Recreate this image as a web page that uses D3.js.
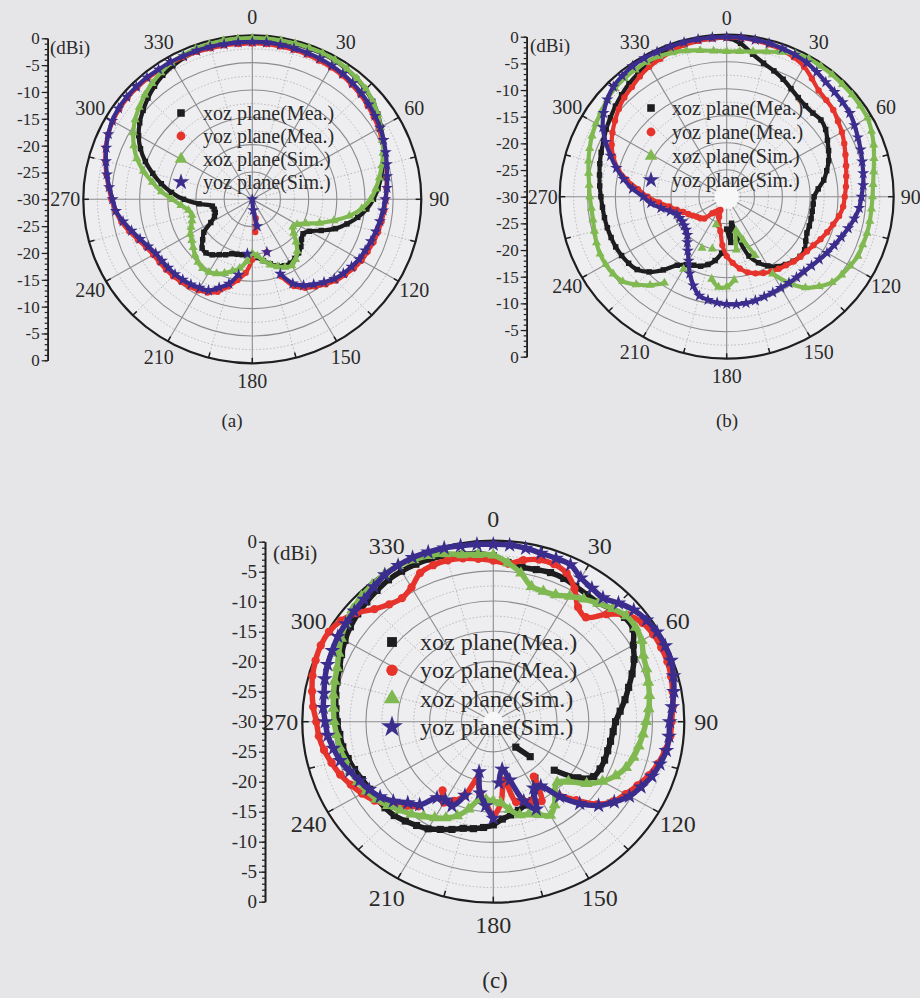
<!DOCTYPE html>
<html>
<head>
<meta charset="utf-8">
<script src="https://cdn.jsdelivr.net/npm/d3@7"></script>
<style>
  body { margin: 0; background: #e6e6e8; }
  svg { display: block; }
  svg text { font-family: "Liberation Serif", "DejaVu Serif", serif !important; fill: #2a2a2a; }
</style>
</head>
<body>
<svg id="fig" width="920" height="998"></svg>
<script>
// ---- shared categories ----
const angles = d3.range(0, 360, 5);               // sample angles, degrees
const angleTicks = d3.range(0, 360, 30);          // labelled spokes
const seriesNames = ["xoz plane(Mea.)", "yoz plane(Mea.)", "xoz plane(Sim.)", "yoz plane(Sim.)"];
const seriesColors = ["#1d1d1f", "#e6332c", "#80b951", "#3b2d8d"];
const gainTicks = [0, -5, -10, -15, -20, -25, -30]; // dBi
const panelLabels = ["(a)", "(b)", "(c)"];

// ---- panel (a) gains, dBi, one value per 5 degrees ----
const aXozMea = [-0.7,-0.7,-0.6,-0.6,-0.6,-0.6,-0.7,-0.9,-1.2,-1.6,-2.1,-2.8,
  -3.6,-4.4,-5.2,-6.0,-6.8,-7.6,-8.5,-9.6,-11.0,-12.6,-14.3,-16.5,
  -18.3,-19.0,-18.6,-17.8,-17.2,-16.8,-16.5,-16.6,-17.0,-17.8,-18.6,-19.3,
  -19.8,-19.8,-19.7,-19.6,-19.4,-18.8,-18.3,-17.6,-17.2,-17.4,-18.5,-19.5,
  -21.5,-22.6,-23.0,-23.0,-22.8,-20.5,-17.8,-15.6,-13.6,-11.7,-9.8,-8.1,
  -6.7,-5.6,-4.7,-3.8,-3.0,-2.3,-1.8,-1.4,-1.1,-0.9,-0.8,-0.7];
const aYozMea = [-1.5,-1.5,-1.6,-1.7,-1.8,-2.0,-2.1,-2.3,-2.6,-2.9,-3.3,-3.7,
  -4.1,-4.6,-5.0,-5.4,-5.8,-6.1,-6.3,-6.5,-6.7,-6.9,-7.1,-7.4,
  -7.6,-8.0,-8.5,-9.0,-9.7,-10.5,-11.3,-12.5,-15.0,-20.0,-26.5,-24.0,
  -19.0,-16.5,-15.0,-13.5,-12.0,-11.2,-10.8,-10.5,-10.3,-10.1,-10.0,-9.9,
  -9.7,-9.2,-8.4,-7.4,-6.4,-5.6,-5.0,-4.4,-3.7,-3.0,-2.3,-1.8,
  -1.4,-1.2,-1.1,-1.1,-1.1,-1.2,-1.2,-1.3,-1.3,-1.4,-1.4,-1.5];
const aXozSim = [-0.5,-0.5,-0.5,-0.5,-0.5,-0.5,-0.6,-0.8,-1.1,-1.5,-2.1,-2.8,
  -3.7,-4.5,-5.3,-6.2,-7.1,-8.0,-9.0,-10.5,-12.5,-15.0,-17.3,-19.5,
  -20.8,-21.2,-20.4,-19.0,-17.6,-16.6,-16.0,-16.3,-16.9,-17.6,-18.6,-19.6,
  -20.1,-18.6,-17.2,-16.4,-15.6,-15.0,-14.6,-14.6,-15.0,-15.6,-16.3,-16.9,
  -17.3,-18.0,-18.6,-18.9,-18.5,-17.3,-15.8,-13.8,-12.0,-10.0,-8.2,-6.8,
  -5.6,-4.6,-3.8,-3.0,-2.3,-1.7,-1.2,-0.9,-0.7,-0.6,-0.5,-0.5];
const aYozSim = [-1.2,-1.2,-1.3,-1.4,-1.5,-1.6,-1.8,-2.0,-2.3,-2.6,-3.0,-3.4,
  -3.8,-4.3,-4.8,-5.3,-5.7,-6.0,-6.4,-6.7,-7.0,-7.3,-7.6,-7.9,
  -8.1,-8.5,-8.9,-9.4,-10.2,-11.0,-11.8,-13.0,-15.5,-20.0,-25.0,-28.0,
  -30.0,-20.0,-16.0,-14.0,-12.8,-11.6,-11.3,-11.0,-10.8,-10.6,-10.5,-10.4,
  -10.2,-9.6,-8.8,-7.8,-6.7,-5.7,-5.2,-4.5,-3.8,-3.1,-2.4,-1.8,
  -1.3,-1.0,-0.9,-0.9,-0.9,-1.0,-1.0,-1.1,-1.1,-1.1,-1.2,-1.2];

// ---- panel (b) ----
const bXozMea = [-0.6,-1.5,-3.2,-4.4,-5.2,-6.0,-6.9,-7.6,-8.0,-8.1,-7.9,-8.3,
  -9.1,-9.8,-10.5,-11.4,-12.3,-13.5,-14.3,-14.4,-14.4,-14.3,-14.2,-14.1,
  -13.6,-12.9,-12.8,-13.1,-13.6,-14.2,-15.2,-16.5,-18.3,-22.0,-25.0,-21.5,
  -24.0,-19.5,-18.0,-17.0,-16.3,-16.0,-15.5,-14.5,-12.3,-10.3,-9.0,-8.5,
  -8.2,-8.0,-7.9,-7.8,-7.7,-7.6,-7.4,-7.1,-6.8,-6.4,-6.0,-5.6,
  -5.0,-4.5,-3.9,-3.3,-2.7,-2.2,-1.7,-1.2,-0.9,-0.7,-0.6,-0.6];
const bYozMea = [-0.5,-0.5,-0.6,-0.8,-1.1,-1.5,-2.2,-3.3,-4.3,-4.7,-5.0,-5.6,
  -6.1,-6.7,-7.3,-7.8,-8.2,-8.5,-8.8,-9.0,-9.5,-10.2,-10.8,-11.4,
  -12.0,-12.4,-12.7,-13.0,-13.4,-13.7,-14.0,-14.4,-14.9,-15.5,-16.5,-17.7,
  -19.0,-21.0,-23.5,-24.5,-26.0,-27.3,-27.0,-26.5,-26.0,-24.3,-23.8,-23.5,
  -23.0,-22.4,-21.7,-20.7,-19.5,-17.8,-15.8,-14.0,-11.7,-9.7,-8.3,-7.2,
  -6.3,-5.5,-4.7,-4.0,-3.5,-2.8,-2.2,-1.8,-1.3,-0.9,-0.7,-0.6];
const bXozSim = [-3.1,-3.0,-2.7,-2.2,-1.5,-0.8,-0.5,-0.5,-0.5,-0.6,-0.6,-0.7,
  -0.8,-1.3,-1.9,-2.6,-3.2,-3.6,-3.8,-3.9,-3.9,-3.9,-4.0,-4.0,
  -4.4,-4.8,-5.3,-6.5,-8.0,-10.5,-13.5,-18.0,-21.5,-23.5,-20.0,-14.5,
  -13.3,-13.2,-14.5,-20.0,-24.5,-19.5,-14.5,-10.5,-8.6,-7.0,-5.6,-5.1,
  -4.9,-4.9,-5.1,-5.4,-5.6,-5.6,-5.4,-5.2,-4.8,-4.3,-3.8,-3.3,
  -2.9,-2.5,-2.0,-1.6,-1.4,-1.3,-1.2,-1.3,-1.6,-2.0,-2.5,-2.9];
const bYozSim = [-0.4,-0.4,-0.5,-0.6,-0.8,-1.0,-1.3,-1.8,-2.3,-2.6,-2.8,-3.0,
  -3.5,-4.0,-4.4,-4.8,-5.1,-5.4,-5.8,-6.1,-6.7,-7.4,-8.1,-8.7,
  -9.2,-9.7,-10.1,-10.4,-10.5,-10.5,-10.5,-10.4,-10.3,-10.1,-10.0,-10.0,
  -10.1,-10.3,-10.6,-11.0,-12.5,-14.3,-16.3,-17.8,-19.0,-20.0,-20.5,-20.7,
  -20.8,-20.7,-20.5,-19.5,-18.0,-16.3,-15.0,-13.0,-11.2,-9.5,-7.8,-6.0,
  -4.3,-3.0,-2.0,-1.2,-0.8,-0.5,-0.4,-0.4,-0.4,-0.4,-0.4,-0.4];

// ---- panel (c) ----
const cXozMea = [-2.5,-3.5,-4.0,-3.9,-3.7,-3.8,-4.1,-4.3,-4.3,-3.6,-3.1,-3.2,
  -4.6,-5.6,-6.8,-8.0,-9.0,-10.0,-10.8,-11.1,-11.3,-11.4,-11.4,-11.5,
  -11.8,-13.8,-17.5,-21.8,-24.5,-18.6,-17.0,-15.6,-15.3,-14.8,-14.3,-13.8,
  -12.9,-12.4,-12.0,-11.7,-11.0,-10.3,-9.5,-9.0,-8.5,-8.0,-7.8,-7.7,
  -7.6,-7.3,-6.8,-6.4,-6.0,-5.8,-5.5,-5.2,-4.9,-4.6,-4.3,-3.7,
  -3.1,-2.6,-2.2,-1.9,-1.6,-1.3,-1.2,-1.2,-1.3,-1.5,-1.8,-2.1];
const cYozMea = [-3.3,-3.7,-2.8,-2.2,-2.2,-2.8,-4.5,-6.8,-7.4,-4.8,-2.5,-1.4,
  -1.0,-0.9,-0.9,-1.1,-1.4,-1.7,-2.0,-2.1,-2.6,-3.2,-4.0,-5.0,
  -6.0,-7.0,-8.7,-11.6,-14.2,-18.9,-14.8,-15.5,-16.0,-16.2,-20.1,-16.4,
  -14.5,-16.5,-18.0,-20.0,-17.0,-15.5,-14.5,-16.1,-11.7,-10.0,-8.6,-7.2,
  -6.2,-5.3,-4.4,-3.7,-3.0,-2.5,-2.2,-1.6,-1.1,-0.6,-0.3,-0.1,
  -0.2,-0.8,-2.0,-3.6,-4.6,-5.0,-4.3,-2.8,-2.4,-2.3,-2.5,-2.9];
const cXozSim = [-2.4,-3.6,-5.0,-6.8,-7.0,-6.8,-6.0,-5.2,-4.4,-3.5,-2.7,-2.7,
  -3.1,-4.0,-4.4,-4.8,-5.1,-5.5,-6.0,-6.4,-6.8,-7.2,-7.8,-8.8,
  -10.2,-12.1,-14.6,-15.8,-15.0,-13.2,-12.1,-13.0,-13.7,-14.0,-15.2,-16.5,
  -16.8,-17.0,-16.8,-15.0,-13.4,-12.4,-11.6,-10.9,-10.0,-9.3,-8.4,-7.6,
  -7.0,-6.5,-6.1,-5.8,-5.5,-5.3,-5.0,-4.8,-4.5,-4.2,-3.9,-3.2,
  -2.4,-1.7,-1.1,-0.7,-0.4,-0.2,-0.1,-0.4,-0.7,-1.2,-1.9,-2.2];
const cYozSim = [-0.6,-0.6,-0.8,-1.1,-1.2,-1.3,-2.5,-3.0,-3.2,-2.2,-1.2,-0.6,
  -0.3,-0.2,-0.3,-0.7,-1.2,-1.8,-2.3,-2.3,-2.4,-2.9,-3.5,-4.4,
  -5.3,-6.8,-8.4,-10.8,-13.8,-17.0,-17.3,-14.0,-16.0,-20.0,-22.0,-19.8,
  -14.0,-16.0,-18.0,-21.4,-17.0,-14.6,-15.0,-14.6,-12.0,-11.0,-9.5,-8.3,
  -7.5,-6.8,-6.0,-5.1,-4.5,-3.9,-3.6,-3.2,-3.0,-2.6,-2.3,-2.1,
  -1.8,-1.7,-1.5,-1.3,-0.8,-0.3,-0.1,0.0,-0.1,-0.2,-0.4,-0.5];

// ---- layout of the three polar panels ----
const panels = [
  { series: [aXozMea, aYozMea, aXozSim, aYozSim], label: panelLabels[0],
    cx: 252.3, cy: 199.3, rx: 169, ry: 164, axisX: 47.7, axisHalf: 161,
    labelOff: 18, angleFont: 20, axisFont: 17, capX: 232, capY: 420, hub: 0, gap: 22,
    legend: { mx: 181, tx: 203, y0: 113, dy: 23, font: 20 }, unit: { x: 50, y: 47 },
    mark: 1 },
  { series: [bXozMea, bYozMea, bXozSim, bYozSim], label: panelLabels[1],
    cx: 726.7, cy: 196.7, rx: 167, ry: 162, axisX: 526.7, axisHalf: 160,
    labelOff: 17, angleFont: 20, axisFont: 17, capX: 727, capY: 420, hub: 12, gap: 22,
    legend: { mx: 651, tx: 672, y0: 108, dy: 24, font: 20 }, unit: { x: 530, y: 45 },
    mark: 1 },
  { series: [cXozMea, cYozMea, cXozSim, cYozSim], label: panelLabels[2],
    cx: 493.3, cy: 721.7, rx: 191, ry: 181, axisX: 265, axisHalf: 180,
    labelOff: 22, angleFont: 24, axisFont: 19, capX: 495, capY: 980, hub: 10, gap: 26,
    legend: { mx: 392, tx: 420, y0: 642, dy: 28.3, font: 24 }, unit: { x: 273, y: 553 },
    mark: 1.3 }
];

const symbolTypes = [d3.symbolSquare, d3.symbolCircle, d3.symbolTriangle, d3.symbolStar];
const symbolArea = [30, 32, 36, 46];
const serif = "'Liberation Serif', 'DejaVu Serif', serif";

const svg = d3.select("#fig");
svg.append("rect").attr("width", 920).attr("height", 998).attr("fill", "#e6e6e8");

function drawPanel(p) {
  const g = svg.append("g");
  const rad = d3.scaleLinear().domain([-30, 0]).range([0, 1]).clamp(true);
  const ang = d3.scaleLinear().domain([0, 360]).range([0, 2 * Math.PI]);
  const px = (deg, v) => p.cx + p.rx * rad(v) * Math.sin(ang(deg));
  const py = (deg, v) => p.cy - p.ry * rad(v) * Math.cos(ang(deg));

  // plot face
  g.append("ellipse").attr("cx", p.cx).attr("cy", p.cy).attr("rx", p.rx).attr("ry", p.ry)
    .attr("fill", "#eeeef0");

  // minor dotted rings and spokes
  g.selectAll(".minorRing").data(d3.range(-27.5, 0, 5)).join("ellipse")
    .attr("cx", p.cx).attr("cy", p.cy)
    .attr("rx", d => p.rx * rad(d)).attr("ry", d => p.ry * rad(d))
    .attr("fill", "none").attr("stroke", "#a9a9ab").attr("stroke-width", 0.8)
    .attr("stroke-dasharray", "1.5,2");
  g.selectAll(".minorSpoke").data(d3.range(15, 360, 30)).join("line")
    .attr("x1", d => px(d, -27.5)).attr("y1", d => py(d, -27.5))
    .attr("x2", d => px(d, 0)).attr("y2", d => py(d, 0))
    .attr("stroke", "#a9a9ab").attr("stroke-width", 0.8).attr("stroke-dasharray", "1.5,2");

  // major rings and spokes
  g.selectAll(".majorRing").data(gainTicks.filter(d => d < 0 && d > -30)).join("ellipse")
    .attr("cx", p.cx).attr("cy", p.cy)
    .attr("rx", d => p.rx * rad(d)).attr("ry", d => p.ry * rad(d))
    .attr("fill", "none").attr("stroke", "#8c8c8e").attr("stroke-width", 1.1);
  g.selectAll(".majorSpoke").data(angleTicks).join("line")
    .attr("x1", p.cx).attr("y1", p.cy)
    .attr("x2", d => px(d, 0)).attr("y2", d => py(d, 0))
    .attr("stroke", "#8c8c8e").attr("stroke-width", 1.1);
  if (p.hub > 0) {
    g.append("circle").attr("cx", p.cx).attr("cy", p.cy).attr("r", p.hub).attr("fill", "#f7f7f8");
  }

  // outer frame with inward ticks every 15 degrees
  g.append("ellipse").attr("cx", p.cx).attr("cy", p.cy).attr("rx", p.rx).attr("ry", p.ry)
    .attr("fill", "none").attr("stroke", "#1e1e1e").attr("stroke-width", 2.2);
  g.selectAll(".frameTick").data(d3.range(0, 360, 15)).join("line")
    .attr("x1", d => px(d, 0)).attr("y1", d => py(d, 0))
    .attr("x2", d => px(d, -1)).attr("y2", d => py(d, -1))
    .attr("stroke", "#1e1e1e").attr("stroke-width", 1.5);

  // measured / simulated patterns: the trace is broken where neighbouring
  // samples jump far apart, so those samples stand as isolated markers
  p.series.forEach((vals, i) => {
    const pts = angles.map((a, k) => [a, vals[k]]);
    const N = pts.length;
    const far = k => {
      const a = pts[(k - 1 + N) % N], b = pts[k];
      return Math.hypot(px(a[0], a[1]) - px(b[0], b[1]), py(a[0], a[1]) - py(b[0], b[1])) > p.gap;
    };
    const breaks = d3.range(N).filter(far);
    const stroke = path => g.append("path").attr("d", path).attr("fill", "none")
      .attr("stroke", seriesColors[i]).attr("stroke-width", 4.2 * p.mark)
      .attr("stroke-linejoin", "round").attr("stroke-linecap", "round");
    if (!breaks.length) {
      stroke(d3.line().x(d => px(d[0], d[1])).y(d => py(d[0], d[1]))
        .curve(d3.curveCatmullRomClosed.alpha(0.5))(pts));
    } else {
      const runs = [];
      let run = [];
      for (let s = 0; s < N; s++) {
        const k = (breaks[0] + s) % N;
        if (s > 0 && far(k)) { runs.push(run); run = []; }
        run.push(pts[k]);
      }
      runs.push(run);
      const open = d3.line().x(d => px(d[0], d[1])).y(d => py(d[0], d[1]))
        .curve(d3.curveCatmullRom.alpha(0.5));
      runs.filter(r => r.length > 1).forEach(r => stroke(open(r)));
    }
    const sym = d3.symbol().type(symbolTypes[i]).size(symbolArea[i] * p.mark * p.mark);
    g.selectAll(null).data(pts).join("path")
      .attr("d", sym)
      .attr("transform", d => `translate(${px(d[0], d[1])},${py(d[0], d[1])})`)
      .attr("fill", seriesColors[i]);
  });

  // legend
  const lg = g.append("g");
  seriesNames.forEach((name, i) => {
    const y = p.legend.y0 + i * p.legend.dy;
    lg.append("path")
      .attr("d", d3.symbol().type(symbolTypes[i]).size(symbolArea[i] * 1.9 * p.mark * p.mark)())
      .attr("transform", `translate(${p.legend.mx},${y})`)
      .attr("fill", seriesColors[i]);
    lg.append("text").attr("x", p.legend.tx).attr("y", y).attr("dy", "0.33em")
      .attr("font-family", serif).attr("font-size", p.legend.font).text(name);
  });

  // angle labels
  g.selectAll(".angLabel").data(angleTicks).join("text")
    .attr("x", d => p.cx + (p.rx + p.labelOff) * Math.sin(ang(d)))
    .attr("y", d => p.cy - (p.ry + p.labelOff) * Math.cos(ang(d)))
    .attr("dy", "0.35em").attr("text-anchor", "middle")
    .attr("font-family", serif).attr("font-size", p.angleFont).text(d => d);

  // radial gain axis: 0 at top, -30 at the centre line, back to 0 at the bottom
  const yTop = d3.scaleLinear().domain([0, -30]).range([p.cy - p.axisHalf, p.cy]);
  const yBot = d3.scaleLinear().domain([-30, 0]).range([p.cy, p.cy + p.axisHalf]);
  const fmt = d => String(d);
  [yTop, yBot].forEach((sc, j) => {
    const minor = g.append("g").attr("transform", `translate(${p.axisX},0)`)
      .call(d3.axisLeft(sc).tickValues(d3.range(0, -31, -1)).tickSize(3).tickSizeOuter(0).tickFormat(""));
    const major = g.append("g").attr("transform", `translate(${p.axisX},0)`)
      .call(d3.axisLeft(sc).tickValues(j === 0 ? gainTicks : gainTicks.filter(d => d > -30))
        .tickSize(6).tickSizeOuter(0).tickPadding(2).tickFormat(fmt));
    [minor, major].forEach(ax => {
      ax.attr("font-family", serif);
      ax.select(".domain").attr("stroke", "#1e1e1e").attr("stroke-width", 1.6);
      ax.selectAll(".tick line").attr("stroke", "#1e1e1e").attr("stroke-width", 1.2);
    });
    major.selectAll(".tick text").attr("font-size", p.axisFont)
      .attr("font-family", serif).attr("fill", "#2a2a2a");
  });
  g.append("text").attr("x", p.unit.x).attr("y", p.unit.y).attr("dy", "0.35em")
    .attr("font-family", serif).attr("font-size", p.axisFont + 2).text("(dBi)");

  // caption
  g.append("text").attr("x", p.capX).attr("y", p.capY).attr("dy", "0.35em")
    .attr("text-anchor", "middle").attr("font-family", serif)
    .attr("font-size", p.angleFont - 1).text(p.label);
}

panels.forEach(drawPanel);
</script>
</body>
</html>
